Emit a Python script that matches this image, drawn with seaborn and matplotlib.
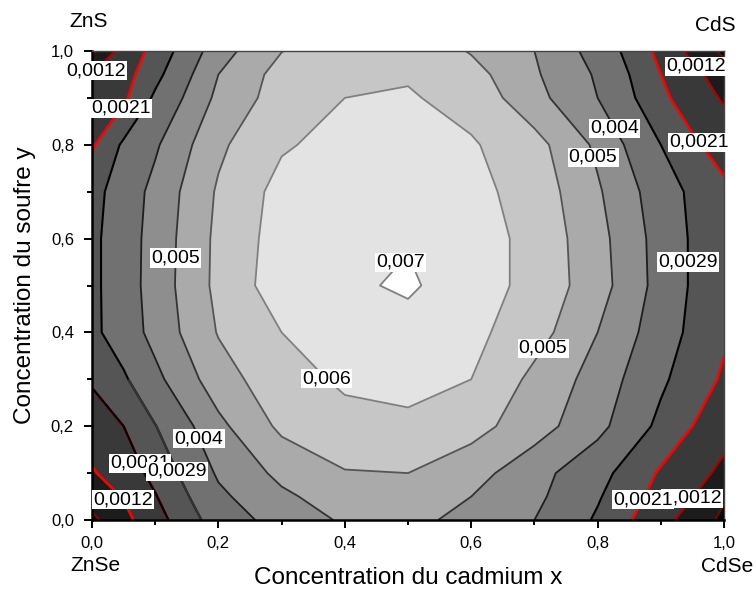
import numpy as np
import matplotlib
matplotlib.use("Agg")
import matplotlib.pyplot as plt
import seaborn as sns

# Composition grid (cadmium fraction x, sulphur fraction y)
x_cd = [0.0, 0.05, 0.1, 0.2, 0.3, 0.4, 0.5, 0.6, 0.7, 0.8, 0.9, 0.95, 1.0]
y_s = [0.0, 0.05, 0.1, 0.2, 0.3, 0.4, 0.5, 0.6, 0.7, 0.8, 0.9, 0.95, 1.0]

# Bowing values, one row per y (ascending), columns follow x_cd
z_y000 = [0.00010, 0.00094, 0.00178, 0.00331, 0.00415, 0.00470, 0.00480, 0.00438, 0.00380, 0.00279, 0.00151, 0.00080, 0.00010]
z_y005 = [0.00070, 0.00125, 0.00205, 0.00363, 0.00445, 0.00500, 0.00510, 0.00460, 0.00400, 0.00298, 0.00180, 0.00122, 0.00040]
z_y010 = [0.00112, 0.00164, 0.00234, 0.00391, 0.00480, 0.00535, 0.00540, 0.00490, 0.00411, 0.00319, 0.00200, 0.00149, 0.00100]
z_y020 = [0.00165, 0.00210, 0.00287, 0.00440, 0.00557, 0.00600, 0.00610, 0.00570, 0.00494, 0.00405, 0.00269, 0.00210, 0.00150]
z_y030 = [0.00220, 0.00278, 0.00359, 0.00504, 0.00592, 0.00645, 0.00660, 0.00630, 0.00518, 0.00430, 0.00305, 0.00247, 0.00200]
z_y040 = [0.00270, 0.00335, 0.00406, 0.00545, 0.00630, 0.00670, 0.00690, 0.00655, 0.00575, 0.00460, 0.00336, 0.00270, 0.00220]
z_y050 = [0.00270, 0.00340, 0.00414, 0.00561, 0.00680, 0.00700, 0.00718, 0.00680, 0.00598, 0.00494, 0.00350, 0.00280, 0.00215]
z_y060 = [0.00270, 0.00340, 0.00411, 0.00559, 0.00670, 0.00690, 0.00706, 0.00680, 0.00598, 0.00487, 0.00348, 0.00280, 0.00220]
z_y070 = [0.00260, 0.00334, 0.00403, 0.00550, 0.00660, 0.00680, 0.00690, 0.00660, 0.00588, 0.00470, 0.00335, 0.00273, 0.00230]
z_y080 = [0.00200, 0.00303, 0.00369, 0.00524, 0.00620, 0.00660, 0.00680, 0.00640, 0.00569, 0.00444, 0.00290, 0.00225, 0.00170]
z_y090 = [0.00150, 0.00195, 0.00304, 0.00479, 0.00577, 0.00630, 0.00640, 0.00594, 0.00486, 0.00380, 0.00229, 0.00165, 0.00110]
z_y095 = [0.00120, 0.00178, 0.00265, 0.00460, 0.00570, 0.00610, 0.00620, 0.00570, 0.00470, 0.00370, 0.00210, 0.00142, 0.00080]
z_y100 = [0.00010, 0.00161, 0.00233, 0.00427, 0.00538, 0.00590, 0.00600, 0.00534, 0.00460, 0.00347, 0.00188, 0.00096, 0.00010]

# Contour levels and their printed labels
levels = [0.0003, 0.0012, 0.0021, 0.0029, 0.0038, 0.0046, 0.0054, 0.0063, 0.0071]
level_labels = ["0,0003", "0,0012", "0,0021", "0,0029", "0,004", "0,005", "0,005", "0,006", "0,007"]

tick_values = [0.0, 0.2, 0.4, 0.6, 0.8, 1.0]
tick_labels = ["0,0", "0,2", "0,4", "0,6", "0,8", "1,0"]
minor_ticks = [0.1, 0.3, 0.5, 0.7, 0.9]

# Styling
fill_colors = ["#000000", "#1c1c1c", "#393939", "#555555", "#717171",
               "#8e8e8e", "#aaaaaa", "#c6c6c6", "#e3e3e3", "#ffffff"]
line_colors = ["#8b0000", "#b00000", "#ff0000", "#000000", "#1e1e1e",
               "#333333", "#555555", "#808080", "#808080"]
line_widths = [1.2, 1.6, 1.8, 1.5, 1.3, 1.3, 1.3, 1.3, 1.3]
# the ZnSe corner carries its own line colours for the four lowest levels
corner_colors = ["#8b0000", "#ff0000", "#000000", "#333333"]
corner_widths = [1.4, 1.9, 1.7, 1.6]

sns.set_theme(style="ticks")
plt.rcParams["font.family"] = ["Liberation Sans", "DejaVu Sans"]

fig = plt.figure(figsize=(7.56, 5.91), dpi=100)
ax = fig.add_axes([0.1217, 0.1201, 0.836, 0.7936])

X, Y = np.meshgrid(x_cd, y_s)
Z = np.array([z_y000, z_y005, z_y010, z_y020, z_y030, z_y040, z_y050,
              z_y060, z_y070, z_y080, z_y090, z_y095, z_y100])

bounds = [0.0] + levels + [0.01]
ax.contourf(X, Y, Z, levels=bounds, colors=fill_colors)
cs = ax.contour(X, Y, Z, levels=levels, colors=line_colors, linewidths=line_widths)

# ZnSe corner (x <= 0.2, y <= 0.3): same data, recoloured low-level lines
ax.contour(X[:5, :4], Y[:5, :4], Z[:5, :4], levels=levels[:4],
           colors=corner_colors, linewidths=corner_widths)

level_paths = cs.get_paths()


def nearest_on_level(idx, lx, ly):
    """Closest point to (lx, ly) on the contour lines of one level."""
    best, best_d = None, np.inf
    for poly in level_paths[idx].to_polygons(closed_only=False):
        a = poly[:-1]
        b = poly[1:]
        ab = b - a
        L2 = (ab ** 2).sum(axis=1)
        L2[L2 == 0] = 1e-12
        t = np.clip(((lx - a[:, 0]) * ab[:, 0] + (ly - a[:, 1]) * ab[:, 1]) / L2, 0, 1)
        p = a + ab * t[:, None]
        d = (p[:, 0] - lx) ** 2 + (p[:, 1] - ly) ** 2
        k = np.argmin(d)
        if d[k] < best_d:
            best_d, best = d[k], p[k]
    return best


def label_on_level(idx, lx, ly):
    px, py = nearest_on_level(idx, lx, ly)
    ax.text(px, py, level_labels[idx], ha="center", va="center", fontsize=14,
            color="black", zorder=5,
            bbox=dict(boxstyle="square,pad=0.06", fc="white", ec="none"))


# (level index, x, y) near which each label is set
label_spots = [
    (1, 0.033, 0.938), (2, 0.045, 0.878),
    (1, 0.951, 0.964), (4, 0.834, 0.838), (2, 0.962, 0.806), (5, 0.797, 0.774),
    (5, 0.131, 0.559), (8, 0.468, 0.563), (3, 0.943, 0.550),
    (6, 0.722, 0.362), (7, 0.361, 0.294), (4, 0.161, 0.171),
    (1, 0.049, 0.043), (2, 0.057, 0.115), (3, 0.136, 0.104),
    (1, 0.954, 0.043), (2, 0.872, 0.043),
]
for idx, lx, ly in label_spots:
    label_on_level(idx, lx, ly)

ax.set_xlim(0, 1)
ax.set_ylim(0, 1)
ax.set_xticks(tick_values)
ax.set_xticklabels(tick_labels)
ax.set_yticks(tick_values)
ax.set_yticklabels(tick_labels)
ax.set_xticks(minor_ticks, minor=True)
ax.set_yticks(minor_ticks, minor=True)
ax.tick_params(which="major", direction="out", length=5.5, width=1.4,
               color="black", labelsize=12, labelcolor="black")
ax.tick_params(which="minor", direction="out", length=3.5, width=1.4, color="black")
ax.tick_params(axis="x", which="major", pad=6)
ax.tick_params(axis="y", which="major", pad=7.5)

for side in ("left", "bottom"):
    ax.spines[side].set_linewidth(1.8)
    ax.spines[side].set_color("black")
for side in ("top", "right"):
    ax.spines[side].set_linewidth(1.0)
    ax.spines[side].set_color("#444444")

ax.set_xlabel("Concentration du cadmium x", fontsize=17.5, color="black")
ax.set_ylabel("Concentration du soufre y", fontsize=17.5, color="black")
ax.xaxis.label.set_verticalalignment("baseline")
ax.xaxis.set_label_coords(0.5, -0.136)
ax.yaxis.set_label_coords(-0.088, 0.5)

corner_kw = dict(transform=ax.transAxes, ha="center", va="center", fontsize=15, color="black")
ax.text(-0.006, 1.062, "ZnS", **corner_kw)
ax.text(0.987, 1.055, "CdS", **corner_kw)
ax.text(0.006, -0.098, "ZnSe", **corner_kw)
ax.text(1.005, -0.100, "CdSe", **corner_kw)

fig.savefig("out.png", dpi=100)
